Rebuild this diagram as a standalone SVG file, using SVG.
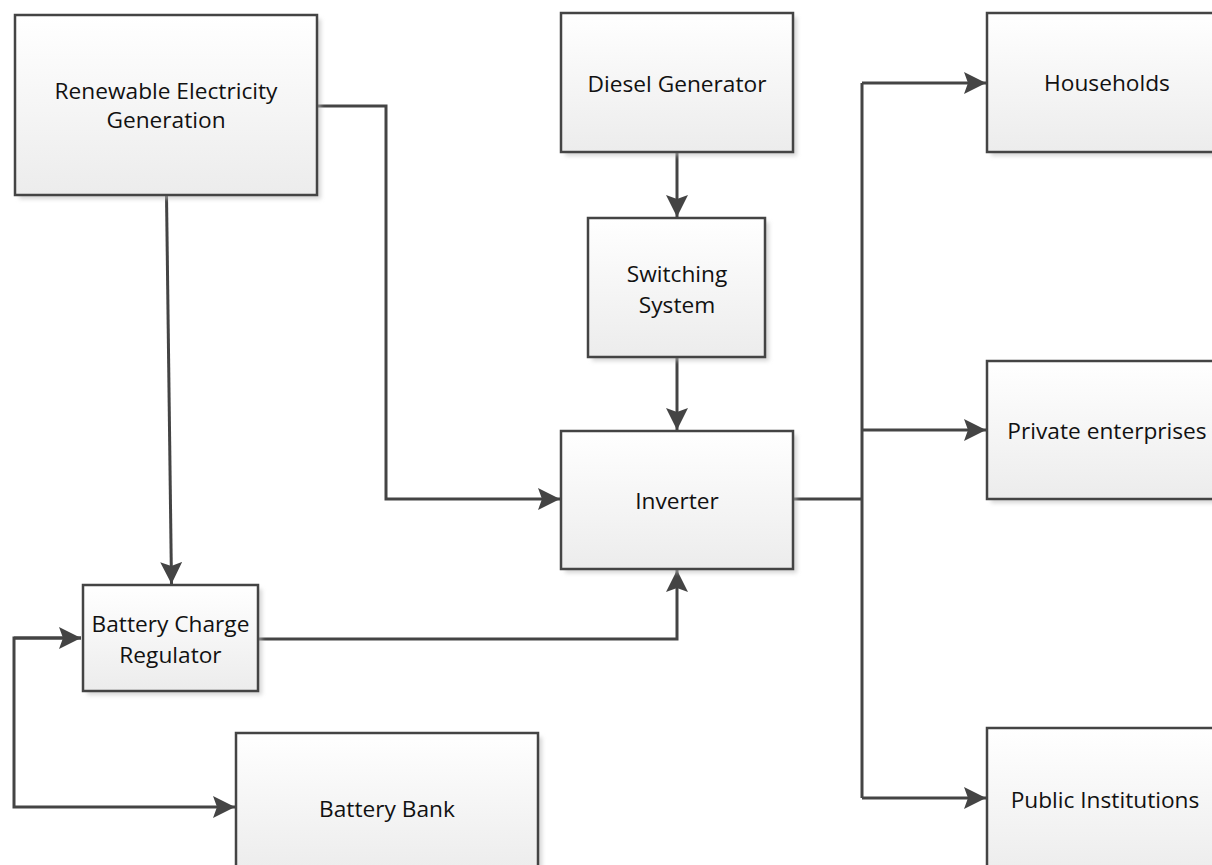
<svg xmlns="http://www.w3.org/2000/svg" width="1212" height="865" viewBox="0 0 1212 865">
<style>
.box{fill:url(#g);stroke:#444;stroke-width:2.5}
.sh{fill:#bbb;opacity:0.6;filter:url(#blur)}
.t{font-family:"Open Sans","Liberation Sans",sans-serif;font-size:22.7px;fill:#111;text-anchor:middle}
.c{fill:none;stroke:#444;stroke-width:3}
</style>
<defs>
<linearGradient id="g" x1="0" y1="0" x2="0" y2="1"><stop offset="0" stop-color="#ffffff"/><stop offset="1" stop-color="#ececec"/></linearGradient>
<filter id="blur" x="-10%" y="-10%" width="120%" height="120%"><feGaussianBlur stdDeviation="2"/></filter>
<marker id="a" markerUnits="userSpaceOnUse" markerWidth="22" markerHeight="22" viewBox="0 0 22 22" refX="22" refY="11" orient="auto"><path d="M0,0 L22,11 L0,22 L4,11 Z" fill="#444"/></marker>
</defs>
<rect width="1212" height="865" fill="#fff"/>
<g id="connectors">
<path class="c" d="M317,106 H386 V499 H560" marker-end="url(#a)"/>
<path class="c" d="M166.5,195 L171.5,584" marker-end="url(#a)"/>
<path class="c" d="M677,152 V217" marker-end="url(#a)"/>
<path class="c" d="M677,357 V430" marker-end="url(#a)"/>
<path class="c" d="M258,639 H677 V570" marker-end="url(#a)"/>
<path class="c" d="M793,499 H862"/>
<path class="c" d="M862,83 V798"/>
<path class="c" d="M862,83 H986" marker-end="url(#a)"/>
<path class="c" d="M862,430 H986" marker-end="url(#a)"/>
<path class="c" d="M862,798 H986" marker-end="url(#a)"/>
<path class="c" d="M81,638 H14 V807 H235" marker-end="url(#a)"/>
<path class="c" d="M14,638 H81" marker-end="url(#a)"/>
</g>
<g id="renewable"><rect class="sh" x="19" y="19" width="302" height="180"/><rect class="box" x="15" y="15" width="302" height="180"/><text class="t" x="166" y="99">Renewable Electricity</text><text class="t" x="166" y="128">Generation</text></g>
<g id="diesel"><rect class="sh" x="565" y="17" width="232" height="139"/><rect class="box" x="561" y="13" width="232" height="139"/><text class="t" x="677" y="92">Diesel Generator</text></g>
<g id="switching"><rect class="sh" x="592" y="222" width="177" height="139"/><rect class="box" x="588" y="218" width="177" height="139"/><text class="t" x="677" y="282">Switching</text><text class="t" x="677" y="313">System</text></g>
<g id="inverter"><rect class="sh" x="565" y="435" width="232" height="138"/><rect class="box" x="561" y="431" width="232" height="138"/><text class="t" x="677" y="509">Inverter</text></g>
<g id="bcr"><rect class="sh" x="87" y="589" width="175" height="106"/><rect class="box" x="83" y="585" width="175" height="106"/><text class="t" x="170.5" y="632">Battery Charge</text><text class="t" x="170.5" y="663">Regulator</text></g>
<g id="battery-bank"><rect class="sh" x="240" y="737" width="302" height="140"/><rect class="box" x="236" y="733" width="302" height="140"/><text class="t" x="387" y="817">Battery Bank</text></g>
<g id="households"><rect class="sh" x="991" y="17" width="240" height="139"/><rect class="box" x="987" y="13" width="240" height="139"/><text class="t" x="1107" y="91">Households</text></g>
<g id="private"><rect class="sh" x="991" y="365" width="240" height="138"/><rect class="box" x="987" y="361" width="240" height="138"/><text class="t" x="1107" y="439">Private enterprises</text></g>
<g id="public"><rect class="sh" x="991" y="732" width="240" height="150"/><rect class="box" x="987" y="728" width="240" height="150"/><text class="t" x="1105" y="808">Public Institutions</text></g>
</svg>
